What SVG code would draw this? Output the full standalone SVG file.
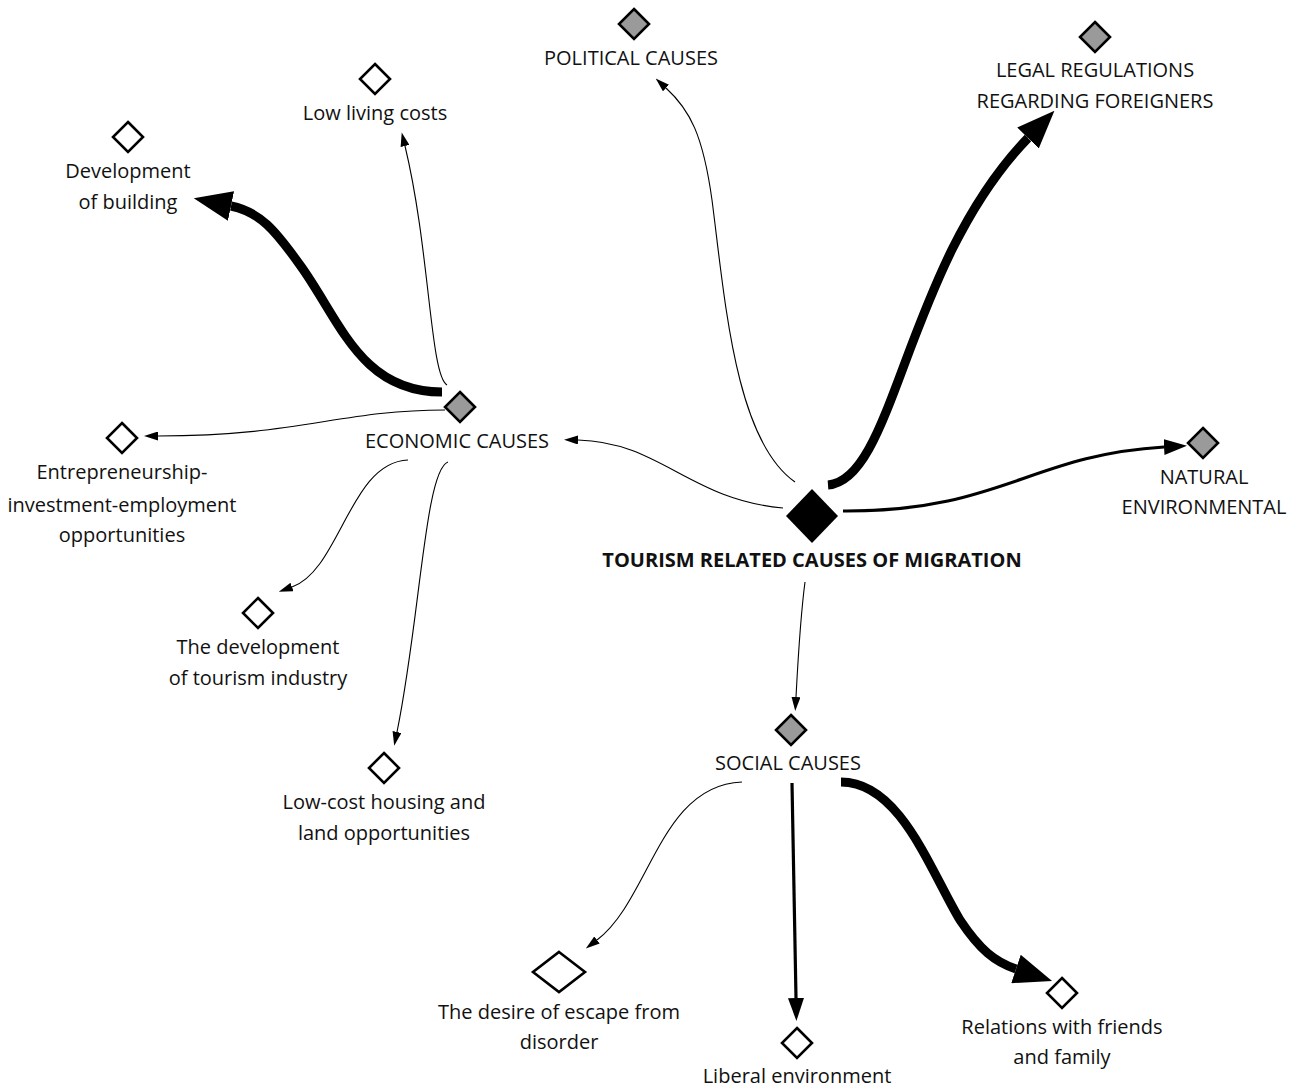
<svg xmlns="http://www.w3.org/2000/svg" width="1297" height="1092" viewBox="0 0 1297 1092">
<style>
text{font-family:"Open Sans","Noto Sans","Liberation Sans",sans-serif;font-size:20px;fill:#111;text-anchor:middle}
.title{font-weight:bold}
.d{stroke:#000;stroke-width:2.6;stroke-linejoin:miter}
.w{fill:#fff}
.g{fill:#9a9a9a}
.c{fill:none;stroke:#000;stroke-linecap:butt}
.t1{stroke-width:1.1}
.t3{stroke-width:3.2}
.t9{stroke-width:9}
</style>
<defs>
<marker id="as" markerUnits="userSpaceOnUse" markerWidth="14" markerHeight="9" refX="0" refY="4.5" orient="auto" viewBox="0 0 14 9"><path d="M0,0 L14,4.5 L0,9 z" fill="#000"/></marker>
<marker id="am" markerUnits="userSpaceOnUse" markerWidth="23" markerHeight="16" refX="0" refY="8" orient="auto" viewBox="0 0 23 16"><path d="M0,0 L23,8 L0,16 z" fill="#000"/></marker>
<marker id="al" markerUnits="userSpaceOnUse" markerWidth="38" markerHeight="30" refX="0" refY="15" orient="auto" viewBox="0 0 38 30"><path d="M0,0 L38,15 L0,30 z" fill="#000"/></marker>
</defs>
<rect width="1297" height="1092" fill="#fff"/>
<g id="connectors">
<path class="c t1" d="M795 482 C735 440,725 300,712 200 C703 135,690 110,666 88" marker-end="url(#as)"/>
<path class="c t9" d="M828 485 C895 480,905 265,1028 138" marker-end="url(#al)"/>
<path class="c t3" d="M843 511 C1000 512,1030 455,1164 447" marker-end="url(#am)"/>
<path class="c t1" d="M783 508 C690 500,660 442,578 440" marker-end="url(#as)"/>
<path class="c t1" d="M805 582 C800 620,798 660,796 697" marker-end="url(#as)"/>
<path class="c t9" d="M442 392 C360 392,340 320,300 265 C275 230,260 212,231 206" marker-end="url(#al)"/>
<path class="c t1" d="M447 385 C430 375,430 250,405 146" marker-end="url(#as)"/>
<path class="c t1" d="M445 410 C340 410,300 436,158 436" marker-end="url(#as)"/>
<path class="c t1" d="M408 460 C350 462,340 570,292 587" marker-end="url(#as)"/>
<path class="c t1" d="M448 462 C425 470,420 620,397 732" marker-end="url(#as)"/>
<path class="c t1" d="M742 782 C660 785,650 900,597 940" marker-end="url(#as)"/>
<path class="c t3" d="M792 783 L796 998" marker-end="url(#am)"/>
<path class="c t9" d="M841 782 C900 782,930 870,960 920 C980 950,995 962,1016 969" marker-end="url(#al)"/>
</g>
<g id="center">
<path d="M812 489 L838 516 L812 543 L786 516 Z" fill="#000"/>
<text class="title" x="812" y="567">TOURISM RELATED CAUSES OF MIGRATION</text>
</g>
<g id="political">
<path class="d g" d="M634 9 L649 24 L634 39 L619 24 Z"/>
<text x="631" y="65">POLITICAL CAUSES</text>
</g>
<g id="legal">
<path class="d g" d="M1095 22 L1110 37 L1095 52 L1080 37 Z"/>
<text x="1095" y="77">LEGAL REGULATIONS</text>
<text x="1095" y="108">REGARDING FOREIGNERS</text>
</g>
<g id="natural">
<path class="d g" d="M1203 428 L1218 443 L1203 458 L1188 443 Z"/>
<text x="1204" y="484">NATURAL</text>
<text x="1204" y="514">ENVIRONMENTAL</text>
</g>
<g id="economic">
<path class="d g" d="M460 392 L475 407 L460 422 L445 407 Z"/>
<text x="457" y="448">ECONOMIC CAUSES</text>
</g>
<g id="social">
<path class="d g" d="M791 715 L806 730 L791 745 L776 730 Z"/>
<text x="788" y="770">SOCIAL CAUSES</text>
</g>
<g id="low-living">
<path class="d w" d="M375 64 L390 79 L375 94 L360 79 Z"/>
<text x="375" y="120">Low living costs</text>
</g>
<g id="development-building">
<path class="d w" d="M128 122 L143 137 L128 152 L113 137 Z"/>
<text x="128" y="178">Development</text>
<text x="128" y="209">of building</text>
</g>
<g id="entrepreneurship">
<path class="d w" d="M122 423 L137 438 L122 453 L107 438 Z"/>
<text x="122" y="479">Entrepreneurship-</text>
<text x="122" y="512">investment-employment</text>
<text x="122" y="542">opportunities</text>
</g>
<g id="tourism-industry">
<path class="d w" d="M258 598 L273 613 L258 628 L243 613 Z"/>
<text x="258" y="654">The development</text>
<text x="258" y="685">of tourism industry</text>
</g>
<g id="housing">
<path class="d w" d="M384 753 L399 768 L384 783 L369 768 Z"/>
<text x="384" y="809">Low-cost housing and</text>
<text x="384" y="840">land opportunities</text>
</g>
<g id="escape">
<path class="d w" d="M559 952 L585 972 L559 992 L533 972 Z"/>
<text x="559" y="1019">The desire of escape from</text>
<text x="559" y="1049">disorder</text>
</g>
<g id="liberal">
<path class="d w" d="M797 1028 L812 1043 L797 1058 L782 1043 Z"/>
<text x="797" y="1083">Liberal environment</text>
</g>
<g id="relations">
<path class="d w" d="M1062 978 L1077 993 L1062 1008 L1047 993 Z"/>
<text x="1062" y="1034">Relations with friends</text>
<text x="1062" y="1064">and family</text>
</g>
</svg>
